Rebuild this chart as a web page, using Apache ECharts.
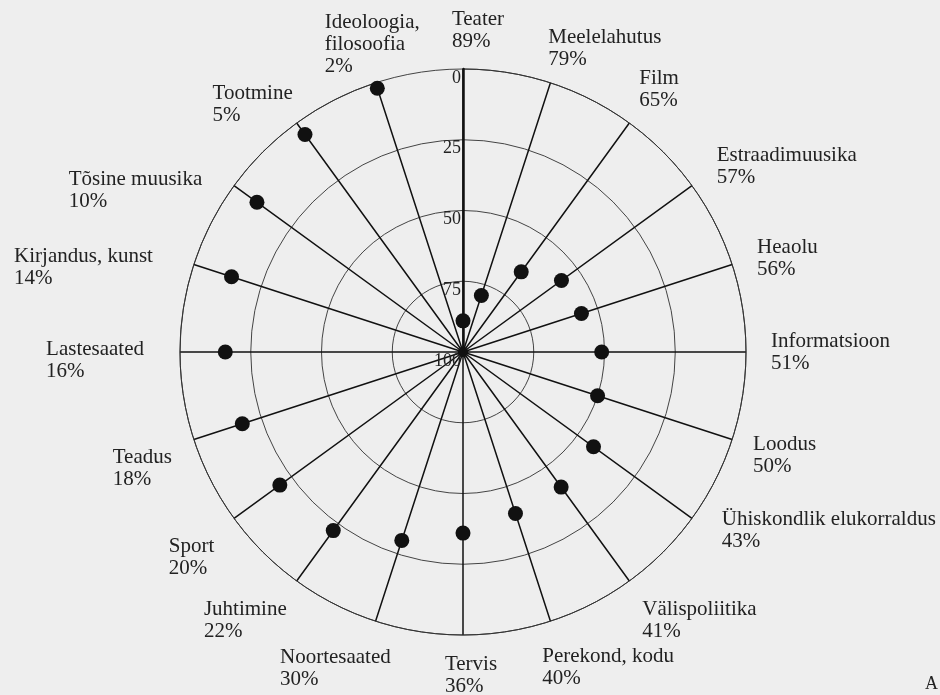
<!DOCTYPE html>
<html lang="et">
<head>
    <meta charset="UTF-8">
    <title>Saateliigid</title>
    <script src="https://cdn.jsdelivr.net/npm/echarts@6/dist/echarts.min.js"></script>
    <style>
        html, body { margin: 0; padding: 0; background: #eeeeee; }
        #main { width: 940px; height: 695px; }
    </style>
</head>
<body>
    <div id="main"></div>
    <script>
        // kategooriad päripäeva, alates ülevalt
        var categories = ['Teater', 'Meelelahutus', 'Film', 'Estraadimuusika', 'Heaolu',
            'Informatsioon', 'Loodus', 'Ühiskondlik elukorraldus', 'Välispoliitika', 'Perekond, kodu',
            'Tervis', 'Noortesaated', 'Juhtimine', 'Sport', 'Teadus',
            'Lastesaated', 'Kirjandus, kunst', 'Tõsine muusika', 'Tootmine', 'Ideoloogia,\nfilosoofia'];
        var values = [89, 79, 65, 57, 56, 51, 50, 43, 41, 40, 36, 30, 22, 20, 18, 16, 14, 10, 5, 2];
        var radiusTicks = [0, 25, 50, 75, 100];

        // sildi nihutus [dx, dy] px (ainult paigutus)
        var labelShift = [[15, 5], [-9, 9], [-3, 6], [7, 16], [4, 23], [3, 0], [0, -13], [12, -23],
            [0, 0], [-15, 3], [8, -4], [22, 4], [3, 0], [-2, 4], [-1, 0], [-14, 8], [-20, 32],
            [-14, 40], [9, 21], [51, 16]];

        var myChart = echarts.init(document.getElementById('main'));
        var font = 'Liberation Serif';
        var center = [463, 352];
        var R = 283;

        var angleData = [];
        var points = [];
        for (var i = 0; i < categories.length; i++) {
            var dx = labelShift[i][0], dy = labelShift[i][1];
            angleData.push({
                value: categories[i],
                textStyle: { padding: [dy, -dx, -dy, dx] }
            });
            points.push([values[i], i]);
        }

        var option = {
            backgroundColor: '#eeeeee',
            animation: false,
            polar: [
                { center: center, radius: R },
                { center: center, radius: R }   // ainult täisringide jaoks
            ],
            angleAxis: [{
                polarIndex: 0,
                type: 'category',
                data: angleData,
                boundaryGap: false,
                startAngle: 90,
                clockwise: true,
                z: 3,
                axisLine: { lineStyle: { color: '#333', width: 1 } },
                axisTick: { show: false },
                splitLine: { show: true, interval: 0, lineStyle: { color: '#111', width: 1.5 } },
                axisLabel: {
                    interval: 0,
                    margin: 22,
                    fontFamily: font,
                    fontSize: 21,
                    lineHeight: 22,
                    color: '#222',
                    formatter: function (name) {
                        var idx = categories.indexOf(name);
                        if (idx < 0) return '';
                        return '{t|' + name.split('\n').join('}\n{t|') + '}\n{t|' + values[idx] + '%}';
                    },
                    rich: { t: { align: 'left', fontFamily: font, fontSize: 21, lineHeight: 22, color: '#222' } }
                }
            }, {
                polarIndex: 1,
                type: 'value',
                min: 0,
                max: 360,
                startAngle: 90,
                axisLine: { show: false },
                axisTick: { show: false },
                axisLabel: { show: false },
                splitLine: { show: false }
            }],
            radiusAxis: [{
                polarIndex: 0,
                type: 'value',
                min: 0,
                max: 100,
                interval: 25,
                inverse: true,
                z: 4,
                axisLine: { lineStyle: { color: '#111', width: 2.5 } },
                axisTick: { show: false },
                splitLine: { show: false },
                axisLabel: {
                    margin: 2,
                    align: 'right',
                    verticalAlign: 'top',
                    fontFamily: font,
                    fontSize: 18,
                    color: '#222',
                    formatter: function (v) {
                        return radiusTicks.indexOf(v) >= 0 ? String(v) : '';
                    }
                }
            }, {
                polarIndex: 1,
                type: 'value',
                min: 0,
                max: 100,
                interval: 25,
                inverse: true,
                axisLine: { show: false },
                axisTick: { show: false },
                axisLabel: { show: false },
                splitLine: { show: true, lineStyle: { color: '#444', width: 1 } }
            }],
            series: [{
                type: 'scatter',
                coordinateSystem: 'polar',
                polarIndex: 0,
                symbol: 'circle',
                symbolSize: 15,
                z: 5,
                itemStyle: { color: '#111', opacity: 1 },
                data: points
            }],
            graphic: [{
                type: 'text',
                right: 2,
                bottom: 2,
                style: { text: 'A', fontFamily: font, fontSize: 18, fill: '#222' }
            }]
        };

        myChart.setOption(option);
    </script>
</body>
</html>
